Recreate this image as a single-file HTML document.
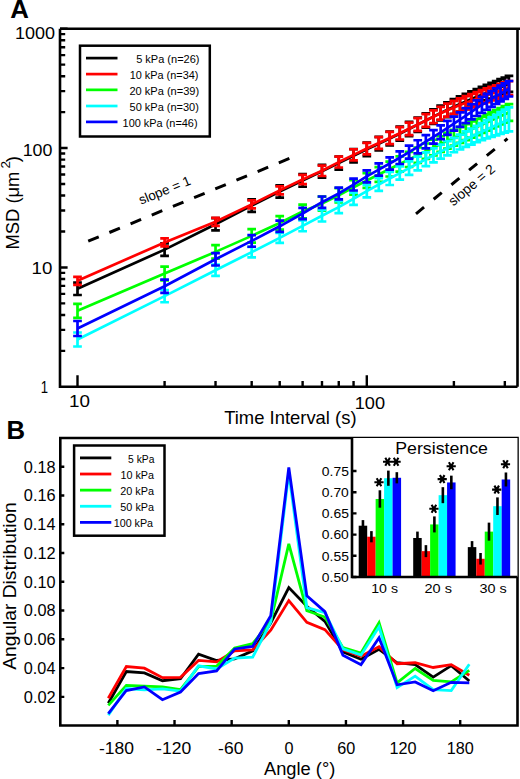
<!DOCTYPE html>
<html><head><meta charset="utf-8"><style>
html,body{margin:0;padding:0;background:#fff;}
svg{display:block;}
</style></head><body>
<svg width="520" height="779" viewBox="0 0 520 779">
<rect width="520" height="779" fill="#fff"/>
<path d="M60,28.7 H520 M517.5,28.7 V386.8 M60,28.7 V386.8 H517.5" stroke="#000" stroke-width="2.6" fill="none"/>
<path d="M60,350.87h5.2M60,329.85h5.2M60,314.93h5.2M60,303.36h5.2M60,293.91h5.2M60,285.92h5.2M60,279.00h5.2M60,272.89h5.2M60,267.43h7.6M60,267.43h7.6M60,231.50h5.2M60,210.48h5.2M60,195.56h5.2M60,183.99h5.2M60,174.54h5.2M60,166.55h5.2M60,159.63h5.2M60,153.52h5.2M60,148.06h7.6M60,148.06h7.6M60,112.13h5.2M60,91.11h5.2M60,76.19h5.2M60,64.62h5.2M60,55.17h5.2M60,47.18h5.2M60,40.26h5.2M60,34.15h5.2M60,28.69h7.6" stroke="#000" stroke-width="2.4" fill="none"/>
<path d="M77.50,386.8v-11.5M164.59,386.8v-5.8M215.53,386.8v-5.8M251.68,386.8v-5.8M279.71,386.8v-5.8M302.62,386.8v-5.8M321.99,386.8v-5.8M338.76,386.8v-5.8M353.56,386.8v-5.8M366.80,386.8v-11.5M453.89,386.8v-5.8M504.83,386.8v-5.8" stroke="#000" stroke-width="2.4" fill="none"/>
<path d="M77.50,282.61V295.01M73.15,282.61h8.7M73.15,295.01h8.7M164.59,243.42V255.82M160.24,243.42h8.7M160.24,255.82h8.7M215.53,218.05V230.45M211.18,218.05h8.7M211.18,230.45h8.7M251.68,199.47V211.87M247.33,199.47h8.7M247.33,211.87h8.7M279.71,185.25V197.65M275.36,185.25h8.7M275.36,197.65h8.7M302.62,174.12V186.74M298.27,174.12h8.7M298.27,186.74h8.7M321.99,164.80V177.60M317.64,164.80h8.7M317.64,177.60h8.7M338.76,156.50V169.56M334.41,156.50h8.7M334.41,169.56h8.7M353.56,149.15V162.44M349.21,149.15h8.7M349.21,162.44h8.7M366.80,142.63V156.12M362.45,142.63h8.7M362.45,156.12h8.7M378.77,136.83V150.51M374.42,136.83h8.7M374.42,150.51h8.7M389.71,131.57V145.42M385.36,131.57h8.7M385.36,145.42h8.7M399.76,126.67V140.67M395.41,126.67h8.7M395.41,140.67h8.7M409.07,121.97V136.14M404.72,121.97h8.7M404.72,136.14h8.7M417.74,117.48V131.81M413.39,117.48h8.7M413.39,131.81h8.7M425.85,113.25V127.74M421.50,113.25h8.7M421.50,127.74h8.7M433.47,109.31V123.93M429.12,109.31h8.7M429.12,123.93h8.7M440.65,105.65V120.41M436.30,105.65h8.7M436.30,120.41h8.7M447.44,102.29V117.17M443.09,102.29h8.7M443.09,117.17h8.7M453.89,99.22V114.22M449.54,99.22h8.7M449.54,114.22h8.7M460.02,96.41V111.52M455.67,96.41h8.7M455.67,111.52h8.7M465.86,93.81V109.03M461.51,93.81h8.7M461.51,109.03h8.7M471.45,91.39V106.71M467.10,91.39h8.7M467.10,106.71h8.7M476.80,89.10V104.52M472.45,89.10h8.7M472.45,104.52h8.7M481.92,86.93V102.44M477.57,86.93h8.7M477.57,102.44h8.7M486.85,84.85V100.45M482.50,84.85h8.7M482.50,100.45h8.7M491.59,82.88V98.57M487.24,82.88h8.7M487.24,98.57h8.7M496.16,81.00V96.77M491.81,81.00h8.7M491.81,96.77h8.7M500.57,79.21V95.06M496.22,79.21h8.7M496.22,95.06h8.7M504.83,77.50V93.42M500.48,77.50h8.7M500.48,93.42h8.7M508.95,75.86V91.86M504.60,75.86h8.7M504.60,91.86h8.7" stroke="#000000" stroke-width="2.7" fill="none"/>
<polyline points="77.50,288.81 164.59,249.62 215.53,224.25 251.68,205.67 279.71,191.45 302.62,180.43 321.99,171.20 338.76,163.03 353.56,155.79 366.80,149.37 378.77,143.67 389.71,138.49 399.76,133.67 409.07,129.05 417.74,124.65 425.85,120.50 433.47,116.62 440.65,113.03 447.44,109.73 453.89,106.72 460.02,103.96 465.86,101.42 471.45,99.05 476.80,96.81 481.92,94.68 486.85,92.65 491.59,90.72 496.16,88.89 500.57,87.13 504.83,85.46 508.95,83.86" stroke="#000000" stroke-width="2.7" fill="none" stroke-linejoin="round"/>
<path d="M77.50,276.78V284.78M73.15,276.78h8.7M73.15,284.78h8.7M164.59,238.42V246.42M160.24,238.42h8.7M160.24,246.42h8.7M215.53,217.83V225.83M211.18,217.83h8.7M211.18,225.83h8.7M251.68,200.40V208.40M247.33,200.40h8.7M247.33,208.40h8.7M279.71,186.39V194.39M275.36,186.39h8.7M275.36,194.39h8.7M302.62,174.78V184.08M298.27,174.78h8.7M298.27,184.08h8.7M321.99,165.59V175.99M317.64,165.59h8.7M317.64,175.99h8.7M338.76,156.67V167.50M334.41,156.67h8.7M334.41,167.50h8.7M353.56,149.25V160.47M349.21,149.25h8.7M349.21,160.47h8.7M366.80,142.80V154.36M362.45,142.80h8.7M362.45,154.36h8.7M378.77,137.07V148.93M374.42,137.07h8.7M374.42,148.93h8.7M389.71,131.89V144.03M385.36,131.89h8.7M385.36,144.03h8.7M399.76,127.08V139.48M395.41,127.08h8.7M395.41,139.48h8.7M409.07,122.54V135.04M404.72,122.54h8.7M404.72,135.04h8.7M417.74,118.19V130.79M413.39,118.19h8.7M413.39,130.79h8.7M425.85,114.10V126.79M421.50,114.10h8.7M421.50,126.79h8.7M433.47,110.32V123.09M429.12,110.32h8.7M429.12,123.09h8.7M440.65,106.85V119.71M436.30,106.85h8.7M436.30,119.71h8.7M447.44,103.72V116.65M443.09,103.72h8.7M443.09,116.65h8.7M453.89,100.92V113.92M449.54,100.92h8.7M449.54,113.92h8.7M460.02,98.40V111.51M455.67,98.40h8.7M455.67,111.51h8.7M465.86,96.11V109.33M461.51,96.11h8.7M461.51,109.33h8.7M471.45,94.01V107.33M467.10,94.01h8.7M467.10,107.33h8.7M476.80,92.05V105.46M472.45,92.05h8.7M472.45,105.46h8.7M481.92,90.20V103.71M477.57,90.20h8.7M477.57,103.71h8.7M486.85,88.45V102.05M482.50,88.45h8.7M482.50,102.05h8.7M491.59,86.81V100.49M487.24,86.81h8.7M487.24,100.49h8.7M496.16,85.25V99.02M491.81,85.25h8.7M491.81,99.02h8.7M500.57,83.78V97.63M496.22,83.78h8.7M496.22,97.63h8.7M504.83,82.40V96.32M500.48,82.40h8.7M500.48,96.32h8.7M508.95,81.09V95.09M504.60,81.09h8.7M504.60,95.09h8.7" stroke="#ff0000" stroke-width="2.7" fill="none"/>
<polyline points="77.50,280.78 164.59,242.42 215.53,221.83 251.68,204.40 279.71,190.39 302.62,179.43 321.99,170.79 338.76,162.08 353.56,154.86 366.80,148.58 378.77,143.00 389.71,137.96 399.76,133.28 409.07,128.79 417.74,124.49 425.85,120.45 433.47,116.70 440.65,113.28 447.44,110.18 453.89,107.42 460.02,104.96 465.86,102.72 471.45,100.67 476.80,98.75 481.92,96.95 486.85,95.25 491.59,93.65 496.16,92.14 500.57,90.71 504.83,89.36 508.95,88.09" stroke="#ff0000" stroke-width="2.7" fill="none" stroke-linejoin="round"/>
<path d="M77.50,303.82V317.82M73.15,303.82h8.7M73.15,317.82h8.7M164.59,266.60V280.34M160.24,266.60h8.7M160.24,280.34h8.7M215.53,245.08V258.67M211.18,245.08h8.7M211.18,258.67h8.7M251.68,229.15V242.63M247.33,229.15h8.7M247.33,242.63h8.7M279.71,216.22V229.62M275.36,216.22h8.7M275.36,229.62h8.7M302.62,204.66V218.38M298.27,204.66h8.7M298.27,218.38h8.7M321.99,196.54V210.53M317.64,196.54h8.7M317.64,210.53h8.7M338.76,188.16V202.39M334.41,188.16h8.7M334.41,202.39h8.7M353.56,180.18V194.61M349.21,180.18h8.7M349.21,194.61h8.7M366.80,173.18V187.79M362.45,173.18h8.7M362.45,187.79h8.7M378.77,167.08V181.86M374.42,167.08h8.7M374.42,181.86h8.7M389.71,161.54V176.48M385.36,161.54h8.7M385.36,176.48h8.7M399.76,156.47V171.55M395.41,156.47h8.7M395.41,171.55h8.7M409.07,151.81V167.01M404.72,151.81h8.7M404.72,167.01h8.7M417.74,147.49V162.82M413.39,147.49h8.7M413.39,162.82h8.7M425.85,143.48V158.92M421.50,143.48h8.7M421.50,158.92h8.7M433.47,139.74V155.29M429.12,139.74h8.7M429.12,155.29h8.7M440.65,136.23V151.88M436.30,136.23h8.7M436.30,151.88h8.7M447.44,132.94V148.68M443.09,132.94h8.7M443.09,148.68h8.7M453.89,129.84V145.67M449.54,129.84h8.7M449.54,145.67h8.7M460.02,126.90V142.82M455.67,126.90h8.7M455.67,142.82h8.7M465.86,124.13V140.13M461.51,124.13h8.7M461.51,140.13h8.7M471.45,121.49V137.57M467.10,121.49h8.7M467.10,137.57h8.7M476.80,118.99V135.14M472.45,118.99h8.7M472.45,135.14h8.7M481.92,116.59V132.82M477.57,116.59h8.7M477.57,132.82h8.7M486.85,114.31V130.60M482.50,114.31h8.7M482.50,130.60h8.7M491.59,112.12V128.48M487.24,112.12h8.7M487.24,128.48h8.7M496.16,110.02V126.44M491.81,110.02h8.7M491.81,126.44h8.7M500.57,108.00V124.49M496.22,108.00h8.7M496.22,124.49h8.7M504.83,106.06V122.60M500.48,106.06h8.7M500.48,122.60h8.7M508.95,104.19V120.79M504.60,104.19h8.7M504.60,120.79h8.7" stroke="#00ff00" stroke-width="2.7" fill="none"/>
<polyline points="77.50,310.82 164.59,273.47 215.53,251.87 251.68,235.89 279.71,222.92 302.62,211.52 321.99,203.53 338.76,195.28 353.56,187.40 366.80,180.49 378.77,174.47 389.71,169.01 399.76,164.01 409.07,159.41 417.74,155.16 425.85,151.20 433.47,147.51 440.65,144.06 447.44,140.81 453.89,137.75 460.02,134.86 465.86,132.13 471.45,129.53 476.80,127.06 481.92,124.71 486.85,122.45 491.59,120.30 496.16,118.23 500.57,116.24 504.83,114.33 508.95,112.49" stroke="#00ff00" stroke-width="2.7" fill="none" stroke-linejoin="round"/>
<path d="M77.50,332.51V346.51M73.15,332.51h8.7M73.15,346.51h8.7M164.59,289.98V302.26M160.24,289.98h8.7M160.24,302.26h8.7M215.53,264.67V275.94M211.18,264.67h8.7M211.18,275.94h8.7M251.68,246.82V257.38M247.33,246.82h8.7M247.33,257.38h8.7M279.71,232.83V242.83M275.36,232.83h8.7M275.36,242.83h8.7M302.62,220.45V231.26M298.27,220.45h8.7M298.27,231.26h8.7M321.99,210.00V221.50M317.64,210.00h8.7M317.64,221.50h8.7M338.76,201.20V213.06M334.41,201.20h8.7M334.41,213.06h8.7M353.56,192.61V204.80M349.21,192.61h8.7M349.21,204.80h8.7M366.80,184.85V197.34M362.45,184.85h8.7M362.45,197.34h8.7M378.77,178.12V190.87M374.42,178.12h8.7M374.42,190.87h8.7M389.71,172.02V185.01M385.36,172.02h8.7M385.36,185.01h8.7M399.76,166.47V179.68M395.41,166.47h8.7M395.41,179.68h8.7M409.07,161.38V174.80M404.72,161.38h8.7M404.72,174.80h8.7M417.74,156.70V170.30M413.39,156.70h8.7M413.39,170.30h8.7M425.85,152.37V166.15M421.50,152.37h8.7M421.50,166.15h8.7M433.47,148.35V162.30M429.12,148.35h8.7M429.12,162.30h8.7M440.65,144.61V158.72M436.30,144.61h8.7M436.30,158.72h8.7M447.44,141.11V155.37M443.09,141.11h8.7M443.09,155.37h8.7M453.89,137.84V152.24M449.54,137.84h8.7M449.54,152.24h8.7M460.02,134.55V149.52M455.67,134.55h8.7M455.67,149.52h8.7M465.86,131.45V146.96M461.51,131.45h8.7M461.51,146.96h8.7M471.45,128.52V144.55M467.10,128.52h8.7M467.10,144.55h8.7M476.80,125.74V142.27M472.45,125.74h8.7M472.45,142.27h8.7M481.92,123.11V140.11M477.57,123.11h8.7M477.57,140.11h8.7M486.85,120.19V138.46M482.50,120.19h8.7M482.50,138.46h8.7M491.59,117.40V136.90M487.24,117.40h8.7M487.24,136.90h8.7M496.16,114.73V135.41M491.81,114.73h8.7M491.81,135.41h8.7M500.57,112.17V134.00M496.22,112.17h8.7M496.22,134.00h8.7M504.83,109.71V132.64M500.48,109.71h8.7M500.48,132.64h8.7M508.95,107.35V131.35M504.60,107.35h8.7M504.60,131.35h8.7" stroke="#00ffff" stroke-width="2.7" fill="none"/>
<polyline points="77.50,339.51 164.59,296.12 215.53,270.31 251.68,252.10 279.71,237.83 302.62,225.85 321.99,215.75 338.76,207.13 353.56,198.71 366.80,191.09 378.77,184.49 389.71,178.52 399.76,173.08 409.07,168.09 417.74,163.50 425.85,159.26 433.47,155.32 440.65,151.66 447.44,148.24 453.89,145.04 460.02,142.03 465.86,139.21 471.45,136.53 476.80,134.01 481.92,131.61 486.85,129.32 491.59,127.15 496.16,125.07 500.57,123.08 504.83,121.18 508.95,119.35" stroke="#00ffff" stroke-width="2.7" fill="none" stroke-linejoin="round"/>
<path d="M77.50,320.98V335.98M73.15,320.98h8.7M73.15,335.98h8.7M164.59,279.54V292.90M160.24,279.54h8.7M160.24,292.90h8.7M215.53,253.09V265.49M211.18,253.09h8.7M211.18,265.49h8.7M251.68,235.03V246.76M247.33,235.03h8.7M247.33,246.76h8.7M279.71,220.72V231.92M275.36,220.72h8.7M275.36,231.92h8.7M302.62,207.85V219.15M298.27,207.85h8.7M298.27,219.15h8.7M321.99,196.49V207.89M317.64,196.49h8.7M317.64,207.89h8.7M338.76,187.70V199.36M334.41,187.70h8.7M334.41,199.36h8.7M353.56,178.64V190.52M349.21,178.64h8.7M349.21,190.52h8.7M366.80,170.34V182.43M362.45,170.34h8.7M362.45,182.43h8.7M378.77,163.44V175.71M374.42,163.44h8.7M374.42,175.71h8.7M389.71,157.28V169.72M385.36,157.28h8.7M385.36,169.72h8.7M399.76,151.42V164.02M395.41,151.42h8.7M395.41,164.02h8.7M409.07,145.70V158.54M404.72,145.70h8.7M404.72,158.54h8.7M417.74,140.26V153.32M413.39,140.26h8.7M413.39,153.32h8.7M425.85,135.08V148.35M421.50,135.08h8.7M421.50,148.35h8.7M433.47,130.14V143.62M429.12,130.14h8.7M429.12,143.62h8.7M440.65,125.45V139.10M436.30,125.45h8.7M436.30,139.10h8.7M447.44,120.97V134.80M443.09,120.97h8.7M443.09,134.80h8.7M453.89,116.69V130.69M449.54,116.69h8.7M449.54,130.69h8.7M460.02,112.39V126.83M455.67,112.39h8.7M455.67,126.83h8.7M465.86,108.19V123.05M461.51,108.19h8.7M461.51,123.05h8.7M471.45,104.17V119.42M467.10,104.17h8.7M467.10,119.42h8.7M476.80,100.39V116.02M472.45,100.39h8.7M472.45,116.02h8.7M481.92,96.88V112.88M477.57,96.88h8.7M477.57,112.88h8.7M486.85,93.84V109.75M482.50,93.84h8.7M482.50,109.75h8.7M491.59,90.98V106.80M487.24,90.98h8.7M487.24,106.80h8.7M496.16,88.27V104.01M491.81,88.27h8.7M491.81,104.01h8.7M500.57,85.71V101.37M496.22,85.71h8.7M496.22,101.37h8.7M504.83,83.29V98.86M500.48,83.29h8.7M500.48,98.86h8.7M508.95,80.99V96.49M504.60,80.99h8.7M504.60,96.49h8.7" stroke="#0000ff" stroke-width="2.7" fill="none"/>
<polyline points="77.50,328.48 164.59,286.22 215.53,259.29 251.68,240.90 279.71,226.32 302.62,213.50 321.99,202.19 338.76,193.53 353.56,184.58 366.80,176.39 378.77,169.57 389.71,163.50 399.76,157.72 409.07,152.12 417.74,146.79 425.85,141.71 433.47,136.88 440.65,132.27 447.44,127.88 453.89,123.69 460.02,119.61 465.86,115.62 471.45,111.80 476.80,108.20 481.92,104.88 486.85,101.80 491.59,98.89 496.16,96.14 500.57,93.54 504.83,91.08 508.95,88.74" stroke="#0000ff" stroke-width="2.7" fill="none" stroke-linejoin="round"/>
<line x1="88.2" y1="241.2" x2="290.5" y2="158.0" stroke="#000" stroke-width="3" stroke-dasharray="11.4 11.5"/>
<line x1="416" y1="213.8" x2="507.5" y2="138.6" stroke="#000" stroke-width="3" stroke-dasharray="10.4 12.5"/>
<rect x="80" y="45.7" width="129.8" height="90.8" fill="#fff" stroke="#000" stroke-width="2.5"/>
<line x1="86" y1="58.10" x2="117.5" y2="58.10" stroke="#000000" stroke-width="2.7"/>
<line x1="86" y1="74.10" x2="117.5" y2="74.10" stroke="#ff0000" stroke-width="2.7"/>
<line x1="86" y1="89.85" x2="117.5" y2="89.85" stroke="#00ff00" stroke-width="2.7"/>
<line x1="86" y1="106.00" x2="117.5" y2="106.00" stroke="#00ffff" stroke-width="2.7"/>
<line x1="86" y1="121.90" x2="117.5" y2="121.90" stroke="#0000ff" stroke-width="2.7"/>
<path d="M60.3,438 H517.5 V725.5 H60.3 Z" stroke="#000" stroke-width="2.6" fill="none"/>
<path d="M60.3,696.84h4M60.3,668.08h4M60.3,639.32h4M60.3,610.56h4M60.3,581.80h4M60.3,553.04h4M60.3,524.28h4M60.3,495.52h4M60.3,466.76h4M117.39,725.5v-5.5M174.52,725.5v-5.5M231.66,725.5v-5.5M288.80,725.5v-5.5M345.94,725.5v-5.5M403.08,725.5v-5.5M460.21,725.5v-5.5" stroke="#000" stroke-width="2.4" fill="none"/>
<polyline points="108.30,703.31 126.35,671.53 144.40,672.97 162.45,680.73 180.50,678.72 198.55,654.13 216.60,660.46 234.65,658.88 252.70,650.82 270.75,622.93 288.80,587.55 306.85,606.25 324.90,621.35 342.95,651.83 361.00,659.31 379.05,649.39 397.10,662.76 415.15,664.63 433.20,677.14 451.25,665.64 469.30,681.02" stroke="#000000" stroke-width="2.8" fill="none" stroke-linejoin="miter"/>
<polyline points="108.30,698.28 126.35,666.50 144.40,668.22 162.45,677.71 180.50,677.28 198.55,660.46 216.60,661.90 234.65,650.82 252.70,649.96 270.75,630.12 288.80,600.64 306.85,622.35 324.90,629.69 342.95,649.82 361.00,656.14 379.05,646.65 397.10,663.77 415.15,662.76 433.20,667.50 451.25,664.63 469.30,675.27" stroke="#ff0000" stroke-width="2.8" fill="none" stroke-linejoin="miter"/>
<polyline points="108.30,705.32 126.35,685.34 144.40,686.20 162.45,686.92 180.50,689.65 198.55,666.64 216.60,666.21 234.65,647.95 252.70,643.63 270.75,621.20 288.80,543.84 306.85,610.70 324.90,617.03 342.95,647.66 361.00,652.98 379.05,622.64 397.10,682.89 415.15,668.51 433.20,680.45 451.25,681.88 469.30,670.38" stroke="#00ff00" stroke-width="2.8" fill="none" stroke-linejoin="miter"/>
<polyline points="108.30,715.10 126.35,688.50 144.40,689.94 162.45,688.93 180.50,691.09 198.55,665.78 216.60,668.94 234.65,658.01 252.70,657.15 270.75,622.06 288.80,472.51 306.85,607.54 324.90,612.72 342.95,648.81 361.00,655.14 379.05,626.81 397.10,687.64 415.15,676.13 433.20,689.65 451.25,690.66 469.30,664.20" stroke="#00ffff" stroke-width="2.8" fill="none" stroke-linejoin="miter"/>
<polyline points="108.30,713.66 126.35,690.51 144.40,686.92 162.45,699.72 180.50,692.09 198.55,673.54 216.60,670.96 234.65,648.95 252.70,646.37 270.75,615.74 288.80,467.48 306.85,595.89 324.90,611.71 342.95,655.14 361.00,664.63 379.05,637.74 397.10,684.76 415.15,681.88 433.20,690.66 451.25,682.32 469.30,682.89" stroke="#0000ff" stroke-width="2.8" fill="none" stroke-linejoin="miter"/>
<rect x="74.1" y="445.5" width="90.4" height="90.2" fill="#fff" stroke="#000" stroke-width="2.5"/>
<line x1="80" y1="457.90" x2="111.3" y2="457.90" stroke="#000000" stroke-width="2.8"/>
<line x1="80" y1="474.02" x2="111.3" y2="474.02" stroke="#ff0000" stroke-width="2.8"/>
<line x1="80" y1="490.14" x2="111.3" y2="490.14" stroke="#00ff00" stroke-width="2.8"/>
<line x1="80" y1="506.26" x2="111.3" y2="506.26" stroke="#00ffff" stroke-width="2.8"/>
<line x1="80" y1="522.38" x2="111.3" y2="522.38" stroke="#0000ff" stroke-width="2.8"/>
<rect x="352" y="438" width="165.5" height="139" fill="#fff" stroke="none"/>
<rect x="358.70" y="525.70" width="8.5" height="51.30" fill="#000000"/>
<rect x="367.17" y="536.72" width="8.5" height="40.28" fill="#ff0000"/>
<rect x="375.64" y="498.98" width="8.5" height="78.02" fill="#00ff00"/>
<rect x="384.11" y="478.21" width="8.5" height="98.79" fill="#00ffff"/>
<rect x="392.58" y="477.78" width="8.5" height="99.22" fill="#0000ff"/>
<line x1="362.95" y1="520.10" x2="362.95" y2="531.30" stroke="#000" stroke-width="2.6"/>
<line x1="371.42" y1="531.12" x2="371.42" y2="542.32" stroke="#000" stroke-width="2.6"/>
<line x1="379.89" y1="490.28" x2="379.89" y2="507.68" stroke="#000" stroke-width="2.6"/>
<line x1="388.36" y1="470.61" x2="388.36" y2="485.81" stroke="#000" stroke-width="2.6"/>
<line x1="396.83" y1="472.18" x2="396.83" y2="483.38" stroke="#000" stroke-width="2.6"/>
<rect x="413.20" y="537.99" width="8.5" height="39.01" fill="#000000"/>
<rect x="421.67" y="551.14" width="8.5" height="25.86" fill="#ff0000"/>
<rect x="430.14" y="524.42" width="8.5" height="52.58" fill="#00ff00"/>
<rect x="438.61" y="495.17" width="8.5" height="81.83" fill="#00ffff"/>
<rect x="447.08" y="482.45" width="8.5" height="94.55" fill="#0000ff"/>
<line x1="417.45" y1="531.59" x2="417.45" y2="544.39" stroke="#000" stroke-width="2.6"/>
<line x1="425.92" y1="545.14" x2="425.92" y2="557.14" stroke="#000" stroke-width="2.6"/>
<line x1="434.39" y1="516.42" x2="434.39" y2="532.42" stroke="#000" stroke-width="2.6"/>
<line x1="442.86" y1="487.17" x2="442.86" y2="503.17" stroke="#000" stroke-width="2.6"/>
<line x1="451.33" y1="475.65" x2="451.33" y2="489.25" stroke="#000" stroke-width="2.6"/>
<rect x="467.80" y="547.11" width="8.5" height="29.89" fill="#000000"/>
<rect x="476.27" y="558.77" width="8.5" height="18.23" fill="#ff0000"/>
<rect x="484.74" y="531.63" width="8.5" height="45.37" fill="#00ff00"/>
<rect x="493.21" y="506.19" width="8.5" height="70.81" fill="#00ffff"/>
<rect x="501.68" y="479.48" width="8.5" height="97.52" fill="#0000ff"/>
<line x1="472.05" y1="541.11" x2="472.05" y2="553.11" stroke="#000" stroke-width="2.6"/>
<line x1="480.52" y1="552.97" x2="480.52" y2="564.57" stroke="#000" stroke-width="2.6"/>
<line x1="488.99" y1="522.63" x2="488.99" y2="540.63" stroke="#000" stroke-width="2.6"/>
<line x1="497.46" y1="497.39" x2="497.46" y2="514.99" stroke="#000" stroke-width="2.6"/>
<line x1="505.93" y1="472.48" x2="505.93" y2="486.48" stroke="#000" stroke-width="2.6"/>
<path d="M352,438 V577 H517.5" stroke="#000" stroke-width="2.6" fill="none"/>
<path d="M352,577.00h4.5M352,555.80h4.5M352,534.60h4.5M352,513.40h4.5M352,492.20h4.5M352,471.00h4.5" stroke="#000" stroke-width="2.4" fill="none"/>
<g style="font-family:&quot;Liberation Sans&quot;,sans-serif">
<text x="10.15" y="17.70" font-size="26" font-weight="bold" textLength="18.65" lengthAdjust="spacingAndGlyphs" fill="#000" >A</text>
<text x="6.43" y="438.50" font-size="26" font-weight="bold" textLength="18.59" lengthAdjust="spacingAndGlyphs" fill="#000" >B</text>
<text x="14.95" y="38.50" font-size="17.2" textLength="40.08" lengthAdjust="spacingAndGlyphs" fill="#000" >1000</text>
<text x="22.66" y="156.00" font-size="17.2" textLength="29.72" lengthAdjust="spacingAndGlyphs" fill="#000" >100</text>
<text x="31.60" y="273.90" font-size="17.2" textLength="20.80" lengthAdjust="spacingAndGlyphs" fill="#000" >10</text>
<text x="40.82" y="392.60" font-size="17.2" textLength="7.29" lengthAdjust="spacingAndGlyphs" fill="#000" >1</text>
<text x="68.99" y="407.00" font-size="17.0" textLength="20.91" lengthAdjust="spacingAndGlyphs" fill="#000" >10</text>
<text x="354.74" y="408.60" font-size="16.6" textLength="30.37" lengthAdjust="spacingAndGlyphs" fill="#000" >100</text>
<text x="224.23" y="423.80" font-size="18.5" textLength="132.30" lengthAdjust="spacingAndGlyphs" fill="#000" >Time Interval (s)</text>
<text x="136.16" y="62.60" font-size="11.5" textLength="63.34" lengthAdjust="spacingAndGlyphs" fill="#000" >5 kPa (n=26)</text>
<text x="129.68" y="78.90" font-size="11.5" textLength="68.72" lengthAdjust="spacingAndGlyphs" fill="#000" >10 kPa (n=34)</text>
<text x="129.45" y="94.90" font-size="11.5" textLength="69.77" lengthAdjust="spacingAndGlyphs" fill="#000" >20 kPa (n=39)</text>
<text x="129.56" y="111.10" font-size="11.5" textLength="69.35" lengthAdjust="spacingAndGlyphs" fill="#000" >50 kPa (n=30)</text>
<text x="122.58" y="127.20" font-size="11.5" textLength="74.98" lengthAdjust="spacingAndGlyphs" fill="#000" >100 kPa (n=46)</text>
<text x="23.84" y="702.74" font-size="15.8" textLength="31.90" lengthAdjust="spacingAndGlyphs" fill="#000" >0.02</text>
<text x="23.85" y="673.98" font-size="15.8" textLength="31.56" lengthAdjust="spacingAndGlyphs" fill="#000" >0.04</text>
<text x="23.85" y="645.22" font-size="15.8" textLength="31.73" lengthAdjust="spacingAndGlyphs" fill="#000" >0.06</text>
<text x="23.85" y="616.46" font-size="15.8" textLength="31.73" lengthAdjust="spacingAndGlyphs" fill="#000" >0.08</text>
<text x="23.85" y="587.70" font-size="15.8" textLength="31.64" lengthAdjust="spacingAndGlyphs" fill="#000" >0.10</text>
<text x="23.84" y="558.94" font-size="15.8" textLength="31.90" lengthAdjust="spacingAndGlyphs" fill="#000" >0.12</text>
<text x="23.85" y="530.18" font-size="15.8" textLength="31.56" lengthAdjust="spacingAndGlyphs" fill="#000" >0.14</text>
<text x="23.85" y="501.42" font-size="15.8" textLength="31.73" lengthAdjust="spacingAndGlyphs" fill="#000" >0.16</text>
<text x="23.85" y="472.66" font-size="15.8" textLength="31.73" lengthAdjust="spacingAndGlyphs" fill="#000" >0.18</text>
<text x="99.00" y="753.50" font-size="16.2" textLength="35.02" lengthAdjust="spacingAndGlyphs" fill="#000" >-180</text>
<text x="156.14" y="753.50" font-size="16.2" textLength="35.02" lengthAdjust="spacingAndGlyphs" fill="#000" >-120</text>
<text x="218.13" y="753.50" font-size="16.2" textLength="25.29" lengthAdjust="spacingAndGlyphs" fill="#000" >-60</text>
<text x="284.56" y="753.50" font-size="16.2" textLength="9.01" lengthAdjust="spacingAndGlyphs" fill="#000" >0</text>
<text x="337.13" y="753.50" font-size="16.2" textLength="18.02" lengthAdjust="spacingAndGlyphs" fill="#000" >60</text>
<text x="389.57" y="753.50" font-size="16.2" textLength="27.03" lengthAdjust="spacingAndGlyphs" fill="#000" >120</text>
<text x="446.70" y="753.50" font-size="16.2" textLength="27.03" lengthAdjust="spacingAndGlyphs" fill="#000" >180</text>
<text x="264.00" y="774.60" font-size="18" textLength="71.33" lengthAdjust="spacingAndGlyphs" fill="#000" >Angle (°)</text>
<text x="128.09" y="462.50" font-size="11.5" textLength="26.33" lengthAdjust="spacingAndGlyphs" fill="#000" >5 kPa</text>
<text x="120.49" y="478.70" font-size="11.5" textLength="33.54" lengthAdjust="spacingAndGlyphs" fill="#000" >10 kPa</text>
<text x="120.26" y="494.90" font-size="11.5" textLength="33.78" lengthAdjust="spacingAndGlyphs" fill="#000" >20 kPa</text>
<text x="120.37" y="511.00" font-size="11.5" textLength="33.67" lengthAdjust="spacingAndGlyphs" fill="#000" >50 kPa</text>
<text x="113.69" y="527.20" font-size="11.5" textLength="39.40" lengthAdjust="spacingAndGlyphs" fill="#000" >100 kPa</text>
<text x="395.28" y="454.20" font-size="17.3" textLength="92.61" lengthAdjust="spacingAndGlyphs" fill="#000" >Persistence</text>
<text x="321.85" y="581.80" font-size="13.4" textLength="26.96" lengthAdjust="spacingAndGlyphs" fill="#000" >0.50</text>
<text x="321.84" y="560.60" font-size="13.4" textLength="27.03" lengthAdjust="spacingAndGlyphs" fill="#000" >0.55</text>
<text x="321.85" y="539.40" font-size="13.4" textLength="26.96" lengthAdjust="spacingAndGlyphs" fill="#000" >0.60</text>
<text x="321.84" y="518.20" font-size="13.4" textLength="27.03" lengthAdjust="spacingAndGlyphs" fill="#000" >0.65</text>
<text x="321.85" y="497.00" font-size="13.4" textLength="26.96" lengthAdjust="spacingAndGlyphs" fill="#000" >0.70</text>
<text x="321.84" y="475.80" font-size="13.4" textLength="27.03" lengthAdjust="spacingAndGlyphs" fill="#000" >0.75</text>
<text x="371.24" y="592.50" font-size="12.8" textLength="26.76" lengthAdjust="spacingAndGlyphs" fill="#000" >10 s</text>
<text x="424.47" y="592.50" font-size="12.8" textLength="27.44" lengthAdjust="spacingAndGlyphs" fill="#000" >20 s</text>
<text x="479.42" y="592.50" font-size="12.8" textLength="27.28" lengthAdjust="spacingAndGlyphs" fill="#000" >30 s</text>
<path d="M374.40,482.30L383.60,482.30M376.70,478.32L381.30,486.28M381.30,478.32L376.70,486.28M383.00,461.70L392.20,461.70M385.30,457.72L389.90,465.68M389.90,457.72L385.30,465.68M391.50,461.70L400.70,461.70M393.80,457.72L398.40,465.68M398.40,457.72L393.80,465.68M429.30,508.80L438.50,508.80M431.60,504.82L436.20,512.78M436.20,504.82L431.60,512.78M437.60,479.10L446.80,479.10M439.90,475.12L444.50,483.08M444.50,475.12L439.90,483.08M446.60,466.20L455.80,466.20M448.90,462.22L453.50,470.18M453.50,462.22L448.90,470.18M492.10,489.60L501.30,489.60M494.40,485.62L499.00,493.58M499.00,485.62L494.40,493.58M500.90,464.20L510.10,464.20M503.20,460.22L507.80,468.18M507.80,460.22L503.20,468.18" stroke="#000" stroke-width="2.1" fill="none"/>
<g transform="translate(19.0,249.6) rotate(-90)"><text x="0" y="0" font-size="18.4">MSD (μm<tspan font-size="13.5" dx="3" dy="-9.5">2</tspan><tspan dx="-1.2" dy="9.5">)</tspan></text></g>
<g transform="translate(16.4,669.8) rotate(-90)"><text x="-0.00" y="0" font-size="19.0" textLength="167.58" lengthAdjust="spacingAndGlyphs">Angular Distribution</text></g>
<g transform="translate(141.0,204.8) rotate(-22)"><text x="0" y="0" font-size="13.4">slope = 1</text></g>
<g transform="translate(453.2,206.6) rotate(-40)"><text x="0" y="0" font-size="13.7">slope = 2</text></g>
</g>
</svg>
</body></html>
